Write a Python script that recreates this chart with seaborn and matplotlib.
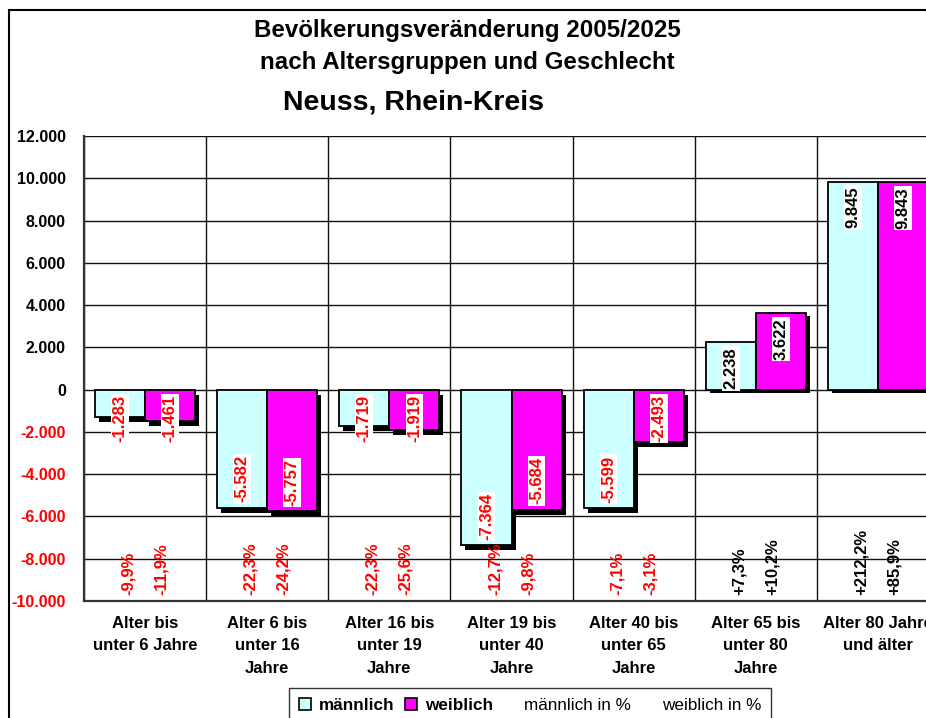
import pandas as pd
import numpy as np
import matplotlib
matplotlib.use("Agg")
import matplotlib.pyplot as plt
import seaborn as sns
from matplotlib.patches import Rectangle, Patch
from matplotlib.lines import Line2D
from matplotlib.transforms import offset_copy
from matplotlib.ticker import FuncFormatter, FixedLocator

# data
groups = ["Alter bis\nunter 6 Jahre", "Alter 6 bis\nunter 16\nJahre", "Alter 16 bis\nunter 19\nJahre",
          "Alter 19 bis\nunter 40\nJahre", "Alter 40 bis\nunter 65\nJahre", "Alter 65 bis\nunter 80\nJahre",
          "Alter 80 Jahre\nund älter"]
maennlich = [-1283, -5582, -1719, -7364, -5599, 2238, 9845]
weiblich = [-1461, -5757, -1919, -5684, -2493, 3622, 9843]
maennlich_pct = [-9.9, -22.3, -22.3, -12.7, -7.1, 7.3, 212.2]
weiblich_pct = [-11.9, -24.2, -25.6, -9.8, -3.1, 10.2, 85.9]
yticks = list(range(-10000, 12001, 2000))

df = pd.DataFrame({
    "Altersgruppe": groups * 2,
    "Geschlecht": ["männlich"] * 7 + ["weiblich"] * 7,
    "Veränderung": maennlich + weiblich,
})

sns.set_style("white")
plt.rcParams["font.family"] = ["Liberation Sans", "DejaVu Sans"]
plt.rcParams["text.color"] = "black"
plt.rcParams["xtick.color"] = "black"
plt.rcParams["ytick.color"] = "black"

fig = plt.figure(figsize=(9.26, 7.18), dpi=100)
ax = fig.add_axes([84 / 926, 1 - 601 / 718, 855 / 926, 465 / 718])

colors = {"männlich": "#CCFFFF", "weiblich": "#FF00FF"}
sns.barplot(data=df, x="Altersgruppe", y="Veränderung", hue="Geschlecht", palette=colors,
            width=0.82, edgecolor="black", linewidth=1.3, errorbar=None, legend=False,
            saturation=1, ax=ax, zorder=3)

# shadows behind the bars
shadow_neg = offset_copy(ax.transData, fig=fig, x=4, y=-5, units="dots")
shadow_pos = offset_copy(ax.transData, fig=fig, x=4, y=-3, units="dots")
for p in list(ax.patches):
    tr = shadow_neg if p.get_height() < 0 else shadow_pos
    ax.add_patch(Rectangle((p.get_x(), p.get_y()), p.get_width(), p.get_height(),
                           transform=tr, facecolor="black", edgecolor="none", zorder=2))

ax.set_xlim(-0.5, 6.5)
ax.set_ylim(-10000, 12000)
ax.yaxis.set_major_locator(FixedLocator(yticks))
ax.yaxis.set_major_formatter(FuncFormatter(lambda v, _: f"{v:,.0f}".replace(",", ".")))
ax.xaxis.set_minor_locator(FixedLocator(np.arange(-0.5, 7, 1)))
ax.set_axisbelow(True)
ax.grid(axis="y", which="major", color="#111111", lw=1)
ax.grid(axis="x", which="minor", color="#111111", lw=1)
ax.set_xlabel("")
ax.set_ylabel("")
for s in ["top", "right"]:
    ax.spines[s].set_visible(False)
for s in ["left", "bottom"]:
    ax.spines[s].set_color("#333333")
    ax.spines[s].set_linewidth(1.6)

ax.tick_params(axis="y", length=4, width=1, color="#333333", labelsize=11.5, pad=9)
ax.tick_params(axis="x", which="both", length=0, labelsize=12, pad=11)
for lbl in ax.get_yticklabels():
    lbl.set_fontweight("bold")
ax.set_xticks(range(len(groups)))
ax.set_xticklabels(groups, fontweight="bold", linespacing=1.6)
fig.canvas.draw()
for lbl, v in zip(ax.get_yticklabels(), yticks):
    lbl.set_color("red" if v < 0 else "black")

# value labels on bars
pad = 250
lab_len = 2200
for p in ax.patches[:14]:
    v = p.get_height()
    xc = p.get_x() + p.get_width() / 2
    txt = f"{v:,.0f}".replace(",", ".")
    if v < 0:
        if -v - 2 * pad > lab_len:
            y, va = v + pad, "bottom"
        else:
            y, va = -pad, "top"
        col = "red"
    else:
        if v - pad > lab_len * 0.85:
            y, va = v - pad, "top"
        else:
            y, va = pad, "bottom"
        col = "black"
    ax.text(xc, y, txt, rotation=90, ha="center", va=va, color=col, fontsize=12,
            fontweight="bold", zorder=5,
            bbox=dict(facecolor="white", edgecolor="none", pad=1))

# percent labels
for i, (pm, pw) in enumerate(zip(maennlich_pct, weiblich_pct)):
    for dx, pv in [(-0.135, pm), (0.135, pw)]:
        ax.text(i + dx, -9700, f"{pv:+.1f}%".replace(".", ","), rotation=90, ha="center",
                va="bottom", color="red" if pv < 0 else "black", fontsize=12,
                fontweight="bold", zorder=5)

# titles
fig.text(467 / 926, 1 - 30 / 718, "Bevölkerungsveränderung 2005/2025", ha="center", va="center",
         fontsize=17.4, fontweight="bold")
fig.text(467 / 926, 1 - 62 / 718, "nach Altersgruppen und Geschlecht", ha="center", va="center",
         fontsize=17.4, fontweight="bold")
fig.text(283 / 926, 1 - 103 / 718, "Neuss, Rhein-Kreis", ha="left", va="center",
         fontsize=20.5, fontweight="bold")

# legend
handles = [Patch(facecolor=colors["männlich"], edgecolor="black", lw=1.2),
           Patch(facecolor=colors["weiblich"], edgecolor="black", lw=1.2),
           Line2D([], [], linestyle="none"), Line2D([], [], linestyle="none")]
leg = fig.legend(handles, ["männlich", "weiblich", "männlich in %", "weiblich in %"],
                 loc="upper center", bbox_to_anchor=(530 / 926, 1 - 688 / 718), ncol=4,
                 fontsize=12.3, frameon=True, fancybox=False, edgecolor="black",
                 handlelength=0.7, handleheight=0.7, handletextpad=0.45, columnspacing=0.65,
                 borderpad=0.6, borderaxespad=0)
leg.get_frame().set_linewidth(1)
for t, w in zip(leg.get_texts(), ["bold", "bold", "normal", "normal"]):
    t.set_fontweight(w)

# outer frame
fig.add_artist(Rectangle((9 / 926, -0.1), 1.2, 0.1 + 1 - 10 / 718, transform=fig.transFigure,
                         fill=False, edgecolor="black", lw=1.5, clip_on=False))

fig.savefig("out.png", dpi=100)
